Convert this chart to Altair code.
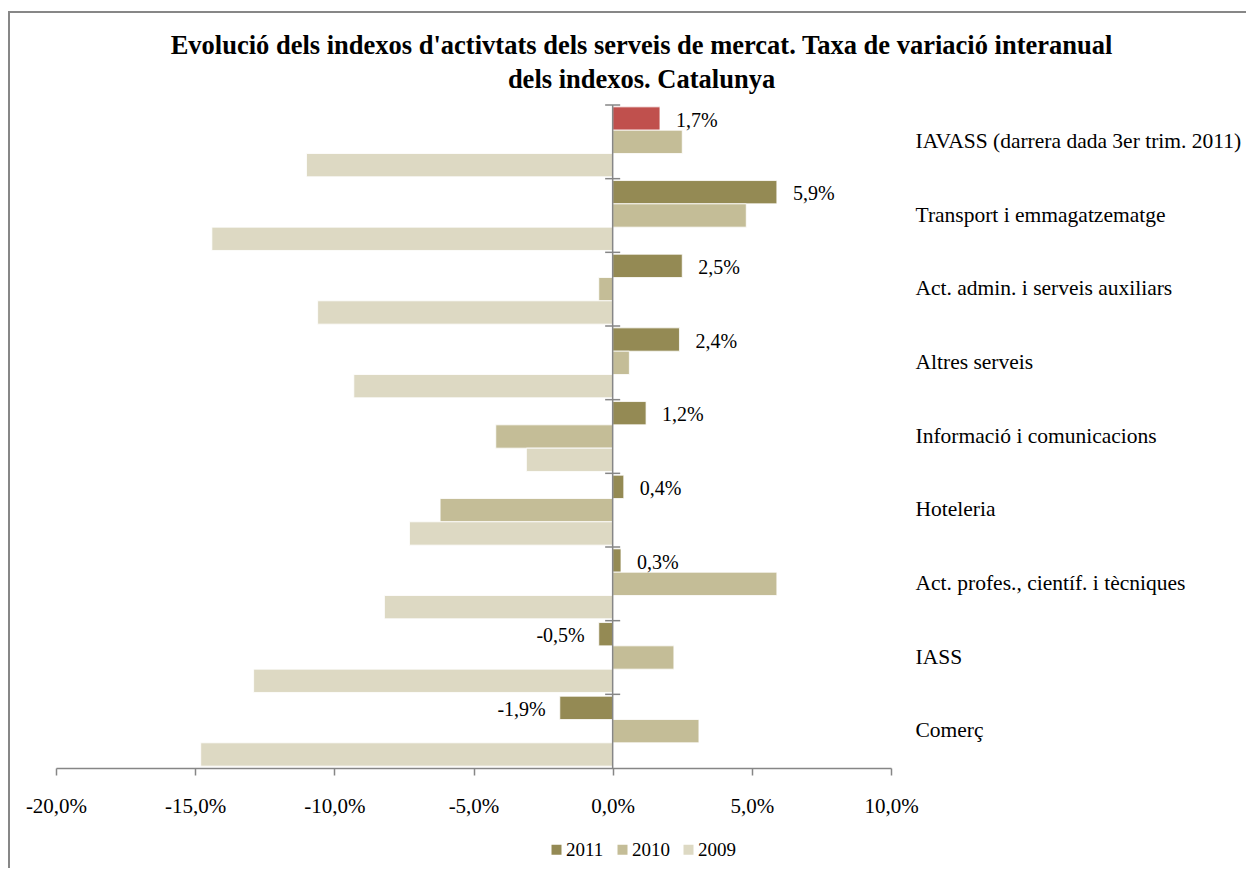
import altair as alt
import pandas as pd

categories = [
    "IAVASS (darrera dada 3er trim. 2011)",
    "Transport i emmagatzematge",
    "Act. admin. i serveis auxiliars",
    "Altres serveis",
    "Informació i comunicacions",
    "Hoteleria",
    "Act. profes., científ.  i tècniques",
    "IASS",
    "Comerç",
]
series = ["2011", "2010", "2009"]
v2011 = [1.7, 5.9, 2.5, 2.4, 1.2, 0.4, 0.3, -0.5, -1.9]
v2010 = [2.5, 4.8, -0.5, 0.6, -4.2, -6.2, 5.9, 2.2, 3.1]
v2009 = [-11.0, -14.4, -10.6, -9.3, -3.1, -7.3, -8.2, -12.9, -14.8]
x_ticks = [-20, -15, -10, -5, 0, 5, 10]
highlight_cat = categories[0]
highlight_series = "2011"

colors = ["#948A54", "#C4BD97", "#DDD9C3"]
highlight_color = "#C0504D"
FONT = "Liberation Serif"
AXIS_GREY = "#868686"
W, H = 835, 663

rows = []
for i, c in enumerate(categories):
    for s, vals in zip(series, [v2011, v2010, v2009]):
        rows.append({"cat": c, "series": s, "value": vals[i],
                     "hl": (c == highlight_cat and s == highlight_series)})
df = pd.DataFrame(rows)
cat_df = pd.DataFrame({"cat": categories, "lo": [-0.27] * len(categories), "hi": [0.27] * len(categories)})
zero_df = pd.DataFrame({"value": [0]})
frame_df = pd.DataFrame({"k": [0]})

pct_expr = "replace(replace(format(datum.value, '.1f'), '.', ','), '\u2212', '-') + '%'"

xscale = alt.Scale(domain=[-20, 10], nice=False, zero=False)
xaxis = alt.Axis(values=x_ticks, labelExpr=pct_expr, title=None, grid=False,
                 domainColor=AXIS_GREY, tickColor=AXIS_GREY, domainWidth=1.5, tickWidth=1.5,
                 tickSize=7, labelPadding=20, labelFont=FONT, labelFontSize=21,
                 labelColor="black", labelFlush=False)
yscale = alt.Scale(domain=categories, paddingInner=0, paddingOuter=0)
yaxis = alt.Axis(orient="right", title=None, domain=False, ticks=False, labelPadding=24,
                 labelFont=FONT, labelFontSize=21.5, labelColor="black", labelLimit=600,
                 labelAlign="left")
yoff = alt.YOffset("series:N", scale=alt.Scale(domain=series, paddingInner=0, paddingOuter=0.08))

frame = alt.Chart(frame_df).mark_rect(fill="transparent", stroke="#878787", strokeWidth=2).encode(
    x=alt.value(-47), y=alt.value(-93), x2=alt.value(1300), y2=alt.value(900)
)

bars = alt.Chart(df).mark_bar(stroke="white", strokeWidth=0.8).encode(
    x=alt.X("value:Q", scale=xscale, axis=xaxis),
    y=alt.Y("cat:N", scale=yscale, axis=yaxis),
    yOffset=yoff,
    color=alt.condition(
        "datum.hl",
        alt.value(highlight_color),
        alt.Color("series:N", scale=alt.Scale(domain=series, range=colors),
                  legend=alt.Legend(orient="none", legendX=491, legendY=735, direction="horizontal",
                                    title=None, symbolType="square", symbolSize=100,
                                    symbolStrokeWidth=0, labelFont=FONT, labelFontSize=19,
                                    labelColor="black", labelOffset=0, columnPadding=9,
                                    padding=0)),
    ),
)

lab_base = alt.Chart(df).transform_filter("datum.series == '2011'").transform_calculate(
    label=pct_expr
)
lab_pos = lab_base.transform_filter("datum.value >= 0").mark_text(
    align="left", baseline="middle", dx=16, dy=2, font=FONT, fontSize=20, color="black"
).encode(x=alt.X("value:Q", scale=xscale, axis=xaxis), y=alt.Y("cat:N", scale=yscale, axis=yaxis),
         yOffset=yoff, text="label:N")
lab_neg = lab_base.transform_filter("datum.value < 0").mark_text(
    align="right", baseline="middle", dx=-14, dy=2, font=FONT, fontSize=20, color="black"
).encode(x=alt.X("value:Q", scale=xscale, axis=xaxis), y=alt.Y("cat:N", scale=yscale, axis=yaxis),
         yOffset=yoff, text="label:N")

zero_line = alt.Chart(zero_df).mark_rule(color=AXIS_GREY, strokeWidth=1.5).encode(
    x=alt.X("value:Q", scale=xscale, axis=xaxis)
)
cat_ticks = alt.Chart(cat_df).mark_rule(color=AXIS_GREY, strokeWidth=1.5).encode(
    y=alt.Y("cat:N", scale=yscale, axis=yaxis, bandPosition=0),
    x=alt.X("lo:Q", scale=xscale, axis=xaxis),
    x2="hi:Q",
)

chart = alt.layer(frame, bars, zero_line, cat_ticks, lab_pos, lab_neg).properties(
    width=W, height=H,
    background="white",
    padding={"left": 48, "top": 97, "right": 355, "bottom": 100},
    autosize=alt.AutoSizeParams(type="none"),
    title=alt.Title(
        text=["Evolució dels indexos d'activtats dels serveis de mercat. Taxa de variació interanual",
              "dels indexos. Catalunya"],
        font=FONT, fontSize=26.5, fontWeight="bold", color="black", anchor="middle",
        frame="group", dx=168, offset=-82, lineHeight=34,
    ),
).configure_view(stroke="transparent", strokeWidth=0)

chart.save("out.html", embed_options={"renderer": "svg", "actions": False})
